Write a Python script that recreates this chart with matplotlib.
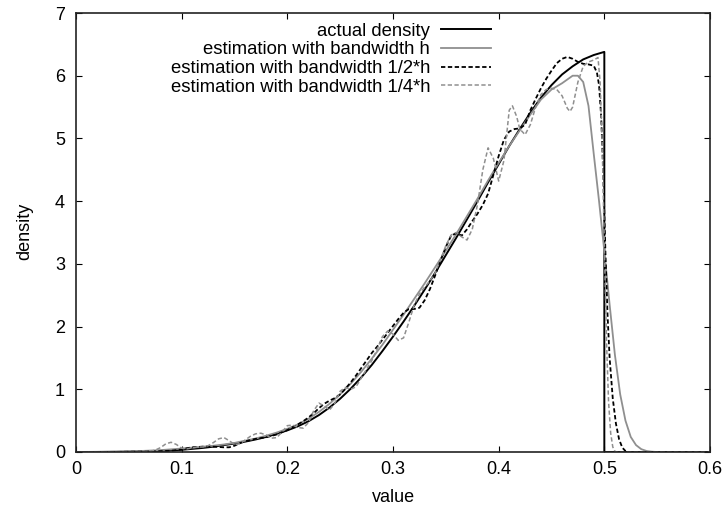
#!/usr/bin/env python3
# -*- coding: utf-8 -*-
"""
Kernel density estimation with three bandwidths vs the actual density
"""
import numpy as np
import matplotlib
matplotlib.use('Agg')
import matplotlib.pyplot as plt

plt.rcParams['font.family'] = ['Liberation Sans', 'DejaVu Sans']

'''
------------------------------------------------ Data read from the curves ------------------------------------------------
'''
#actual density (black solid), drops to 0 at 0.5
actual_x = [0.00, 0.02, 0.04, 0.06, 0.08, 0.10, 0.11, 0.12, 0.13, 0.14, 0.15, 0.16, 0.17, 0.18, 0.19,
            0.20, 0.21, 0.22, 0.23, 0.24, 0.25, 0.26, 0.27, 0.28, 0.29, 0.30, 0.31, 0.32, 0.33, 0.34,
            0.35, 0.36, 0.37, 0.38, 0.39, 0.40, 0.41, 0.42, 0.43, 0.44, 0.45, 0.46, 0.47, 0.48, 0.49,
            0.50, 0.50, 0.60]
actual_y = [0.0, 0.001, 0.003, 0.008, 0.018, 0.035, 0.05, 0.065, 0.085, 0.11, 0.135, 0.165, 0.20, 0.24, 0.29,
            0.345, 0.41, 0.49, 0.59, 0.71, 0.85, 1.01, 1.19, 1.39, 1.61, 1.84, 2.08, 2.33, 2.59, 2.86,
            3.14, 3.42, 3.71, 4.00, 4.30, 4.59, 4.88, 5.15, 5.41, 5.65, 5.85, 6.02, 6.15, 6.26, 6.33,
            6.38, 0.0, 0.0]

#estimation with bandwidth h (gray solid)
est_h_x = [0.00, 0.02, 0.04, 0.06, 0.08, 0.10, 0.11, 0.12, 0.13, 0.14, 0.15, 0.16, 0.17, 0.18, 0.19,
           0.20, 0.21, 0.22, 0.23, 0.24, 0.25, 0.26, 0.27, 0.28, 0.29, 0.30, 0.31, 0.32, 0.33, 0.34,
           0.35, 0.36, 0.37, 0.38, 0.39, 0.40, 0.41, 0.42, 0.43, 0.44, 0.45, 0.46, 0.465, 0.47, 0.475,
           0.48, 0.485, 0.49, 0.495, 0.50, 0.505, 0.51, 0.515, 0.52, 0.525, 0.53, 0.535, 0.54, 0.545,
           0.55, 0.60]
est_h_y = [0.0, 0.002, 0.006, 0.015, 0.03, 0.055, 0.07, 0.085, 0.10, 0.12, 0.145, 0.18, 0.215, 0.26, 0.31,
           0.37, 0.44, 0.53, 0.64, 0.77, 0.92, 1.09, 1.28, 1.49, 1.71, 1.95, 2.19, 2.44, 2.69, 2.95,
           3.21, 3.48, 3.76, 4.04, 4.33, 4.61, 4.88, 5.13, 5.38, 5.62, 5.78, 5.88, 5.94, 6.00, 6.00,
           5.90, 5.52, 4.75, 4.00, 3.20, 2.35, 1.55, 0.92, 0.50, 0.24, 0.11, 0.045, 0.016, 0.005,
           0.0, 0.0]

#estimation with bandwidth 1/2*h (black dashed)
est_h2_x = [0.00, 0.04, 0.07, 0.09, 0.10, 0.105, 0.11, 0.12, 0.13, 0.14, 0.145, 0.15, 0.155, 0.16, 0.17,
            0.18, 0.19, 0.20, 0.21, 0.215, 0.22, 0.225, 0.23, 0.235, 0.24, 0.245, 0.25, 0.255, 0.26, 0.265,
            0.27, 0.275, 0.28, 0.285, 0.29, 0.295, 0.30, 0.305, 0.31, 0.315, 0.32, 0.325, 0.33, 0.335, 0.34,
            0.345, 0.35, 0.355, 0.36, 0.365, 0.37, 0.375, 0.38, 0.385, 0.39, 0.395, 0.40, 0.405, 0.41, 0.415,
            0.42, 0.425, 0.43, 0.435, 0.44, 0.445, 0.45, 0.455, 0.46, 0.465, 0.47, 0.475, 0.48, 0.485, 0.49,
            0.493, 0.495, 0.497, 0.499, 0.501, 0.503, 0.505, 0.508, 0.511, 0.514, 0.517, 0.52, 0.523, 0.60]
est_h2_y = [0.0, 0.002, 0.008, 0.02, 0.04, 0.06, 0.075, 0.085, 0.085, 0.075, 0.075, 0.10, 0.14, 0.17, 0.21,
            0.235, 0.28, 0.35, 0.44, 0.49, 0.55, 0.62, 0.70, 0.77, 0.82, 0.86, 0.92, 1.01, 1.11, 1.22,
            1.34, 1.46, 1.58, 1.68, 1.79, 1.90, 2.01, 2.12, 2.22, 2.28, 2.28, 2.30, 2.42, 2.60, 2.82,
            3.05, 3.27, 3.45, 3.49, 3.45, 3.55, 3.68, 3.80, 3.94, 4.12, 4.42, 4.72, 4.98, 5.11, 5.15,
            5.16, 5.22, 5.45, 5.63, 5.80, 5.95, 6.08, 6.20, 6.27, 6.30, 6.27, 6.22, 6.19, 6.18, 6.16,
            6.05, 5.85, 5.35, 4.45, 3.20, 2.20, 1.50, 0.85, 0.45, 0.20, 0.07, 0.015, 0.0, 0.0]

#estimation with bandwidth 1/4*h (gray dashed)
est_h4_x = [0.00, 0.05, 0.07, 0.075, 0.08, 0.085, 0.09, 0.095, 0.10, 0.105, 0.11, 0.115, 0.12, 0.125, 0.13,
            0.135, 0.14, 0.145, 0.15, 0.155, 0.16, 0.165, 0.17, 0.175, 0.18, 0.185, 0.19, 0.195, 0.20, 0.205,
            0.21, 0.215, 0.22, 0.225, 0.23, 0.235, 0.24, 0.245, 0.25, 0.255, 0.26, 0.265, 0.27, 0.275, 0.28,
            0.285, 0.29, 0.295, 0.30, 0.305, 0.31, 0.315, 0.32, 0.325, 0.33, 0.335, 0.34, 0.345, 0.35, 0.355,
            0.36, 0.365, 0.37, 0.375, 0.38, 0.385, 0.39, 0.395, 0.40, 0.405, 0.41, 0.413, 0.417, 0.42, 0.425,
            0.43, 0.435, 0.44, 0.445, 0.45, 0.455, 0.46, 0.465, 0.4675, 0.47, 0.475, 0.48, 0.485, 0.49, 0.494,
            0.496, 0.498, 0.50, 0.502, 0.504, 0.506, 0.508, 0.51, 0.512, 0.60]
est_h4_y = [0.0, 0.003, 0.01, 0.03, 0.07, 0.13, 0.155, 0.12, 0.06, 0.05, 0.065, 0.08, 0.08, 0.10, 0.15,
            0.21, 0.23, 0.18, 0.12, 0.13, 0.19, 0.25, 0.29, 0.30, 0.27, 0.22, 0.23, 0.32, 0.42, 0.43,
            0.39, 0.38, 0.47, 0.66, 0.78, 0.73, 0.67, 0.78, 0.97, 1.03, 1.00, 1.04, 1.18, 1.32, 1.46,
            1.64, 1.84, 1.93, 1.88, 1.78, 1.82, 2.07, 2.34, 2.52, 2.63, 2.73, 2.86, 3.07, 3.29, 3.46,
            3.50, 3.43, 3.38, 3.55, 3.95, 4.50, 4.85, 4.68, 4.32, 4.65, 5.45, 5.52, 5.35, 5.15, 5.06,
            5.22, 5.50, 5.70, 5.78, 5.80, 5.78, 5.68, 5.48, 5.43, 5.50, 5.90, 6.15, 6.22, 6.25, 6.29,
            5.90, 4.90, 3.30, 1.80, 0.80, 0.30, 0.08, 0.01, 0.0, 0.0]

labels = ['actual density', 'estimation with bandwidth h',
          'estimation with bandwidth 1/2*h', 'estimation with bandwidth 1/4*h']

x_ticks = [0.0, 0.1, 0.2, 0.3, 0.4, 0.5, 0.6]
x_tick_labels = ['0', '0.1', '0.2', '0.3', '0.4', '0.5', '0.6']
y_ticks = [0, 1, 2, 3, 4, 5, 6, 7]

'''
------------------------------------------------ Plot ------------------------------------------------
'''
fig = plt.figure(figsize=(7.24, 5.12), dpi=100)
ax1 = fig.add_axes([76/724, 1-452/512, 634/724, 439/512])

gray = '#8f8f8f'
ax1.plot(actual_x, actual_y, color='black', lw=1.4, label=labels[0])
ax1.plot(est_h_x, est_h_y, color=gray, lw=1.3, label=labels[1])
ax1.plot(est_h2_x, est_h2_y, color='black', lw=1.3, dashes=(2.4, 1.4), label=labels[2])
ax1.plot(est_h4_x, est_h4_y, color=gray, lw=1.1, dashes=(2.8, 1.6), label=labels[3])

ax1.set_xlim(0, 0.6)
ax1.set_ylim(0, 7)
ax1.set_xticks(x_ticks)
ax1.set_xticklabels(x_tick_labels)
ax1.set_yticks(y_ticks)
ax1.tick_params(direction='in', length=4.5, width=0.8, top=True, right=True, labelsize=13, colors='black')
ax1.tick_params(axis='x', pad=6.5)
ax1.tick_params(axis='y', pad=8)
for s in ax1.spines.values():
    s.set_linewidth(1.2)
    s.set_color('#222222')

fig.text(393/724, 1-497/512, 'value', ha='center', va='center', fontsize=13)
fig.text(25/724, 1-231/512, 'density', ha='center', va='center', rotation=90, fontsize=13)

leg = ax1.legend(loc='upper right', bbox_to_anchor=(0.6546, 0.978), frameon=False, markerfirst=False,
                 fontsize=13.3, handlelength=2.7, handletextpad=0.6, labelspacing=0.09, borderpad=0,
                 borderaxespad=0)

plt.savefig('out.png', dpi=100)
